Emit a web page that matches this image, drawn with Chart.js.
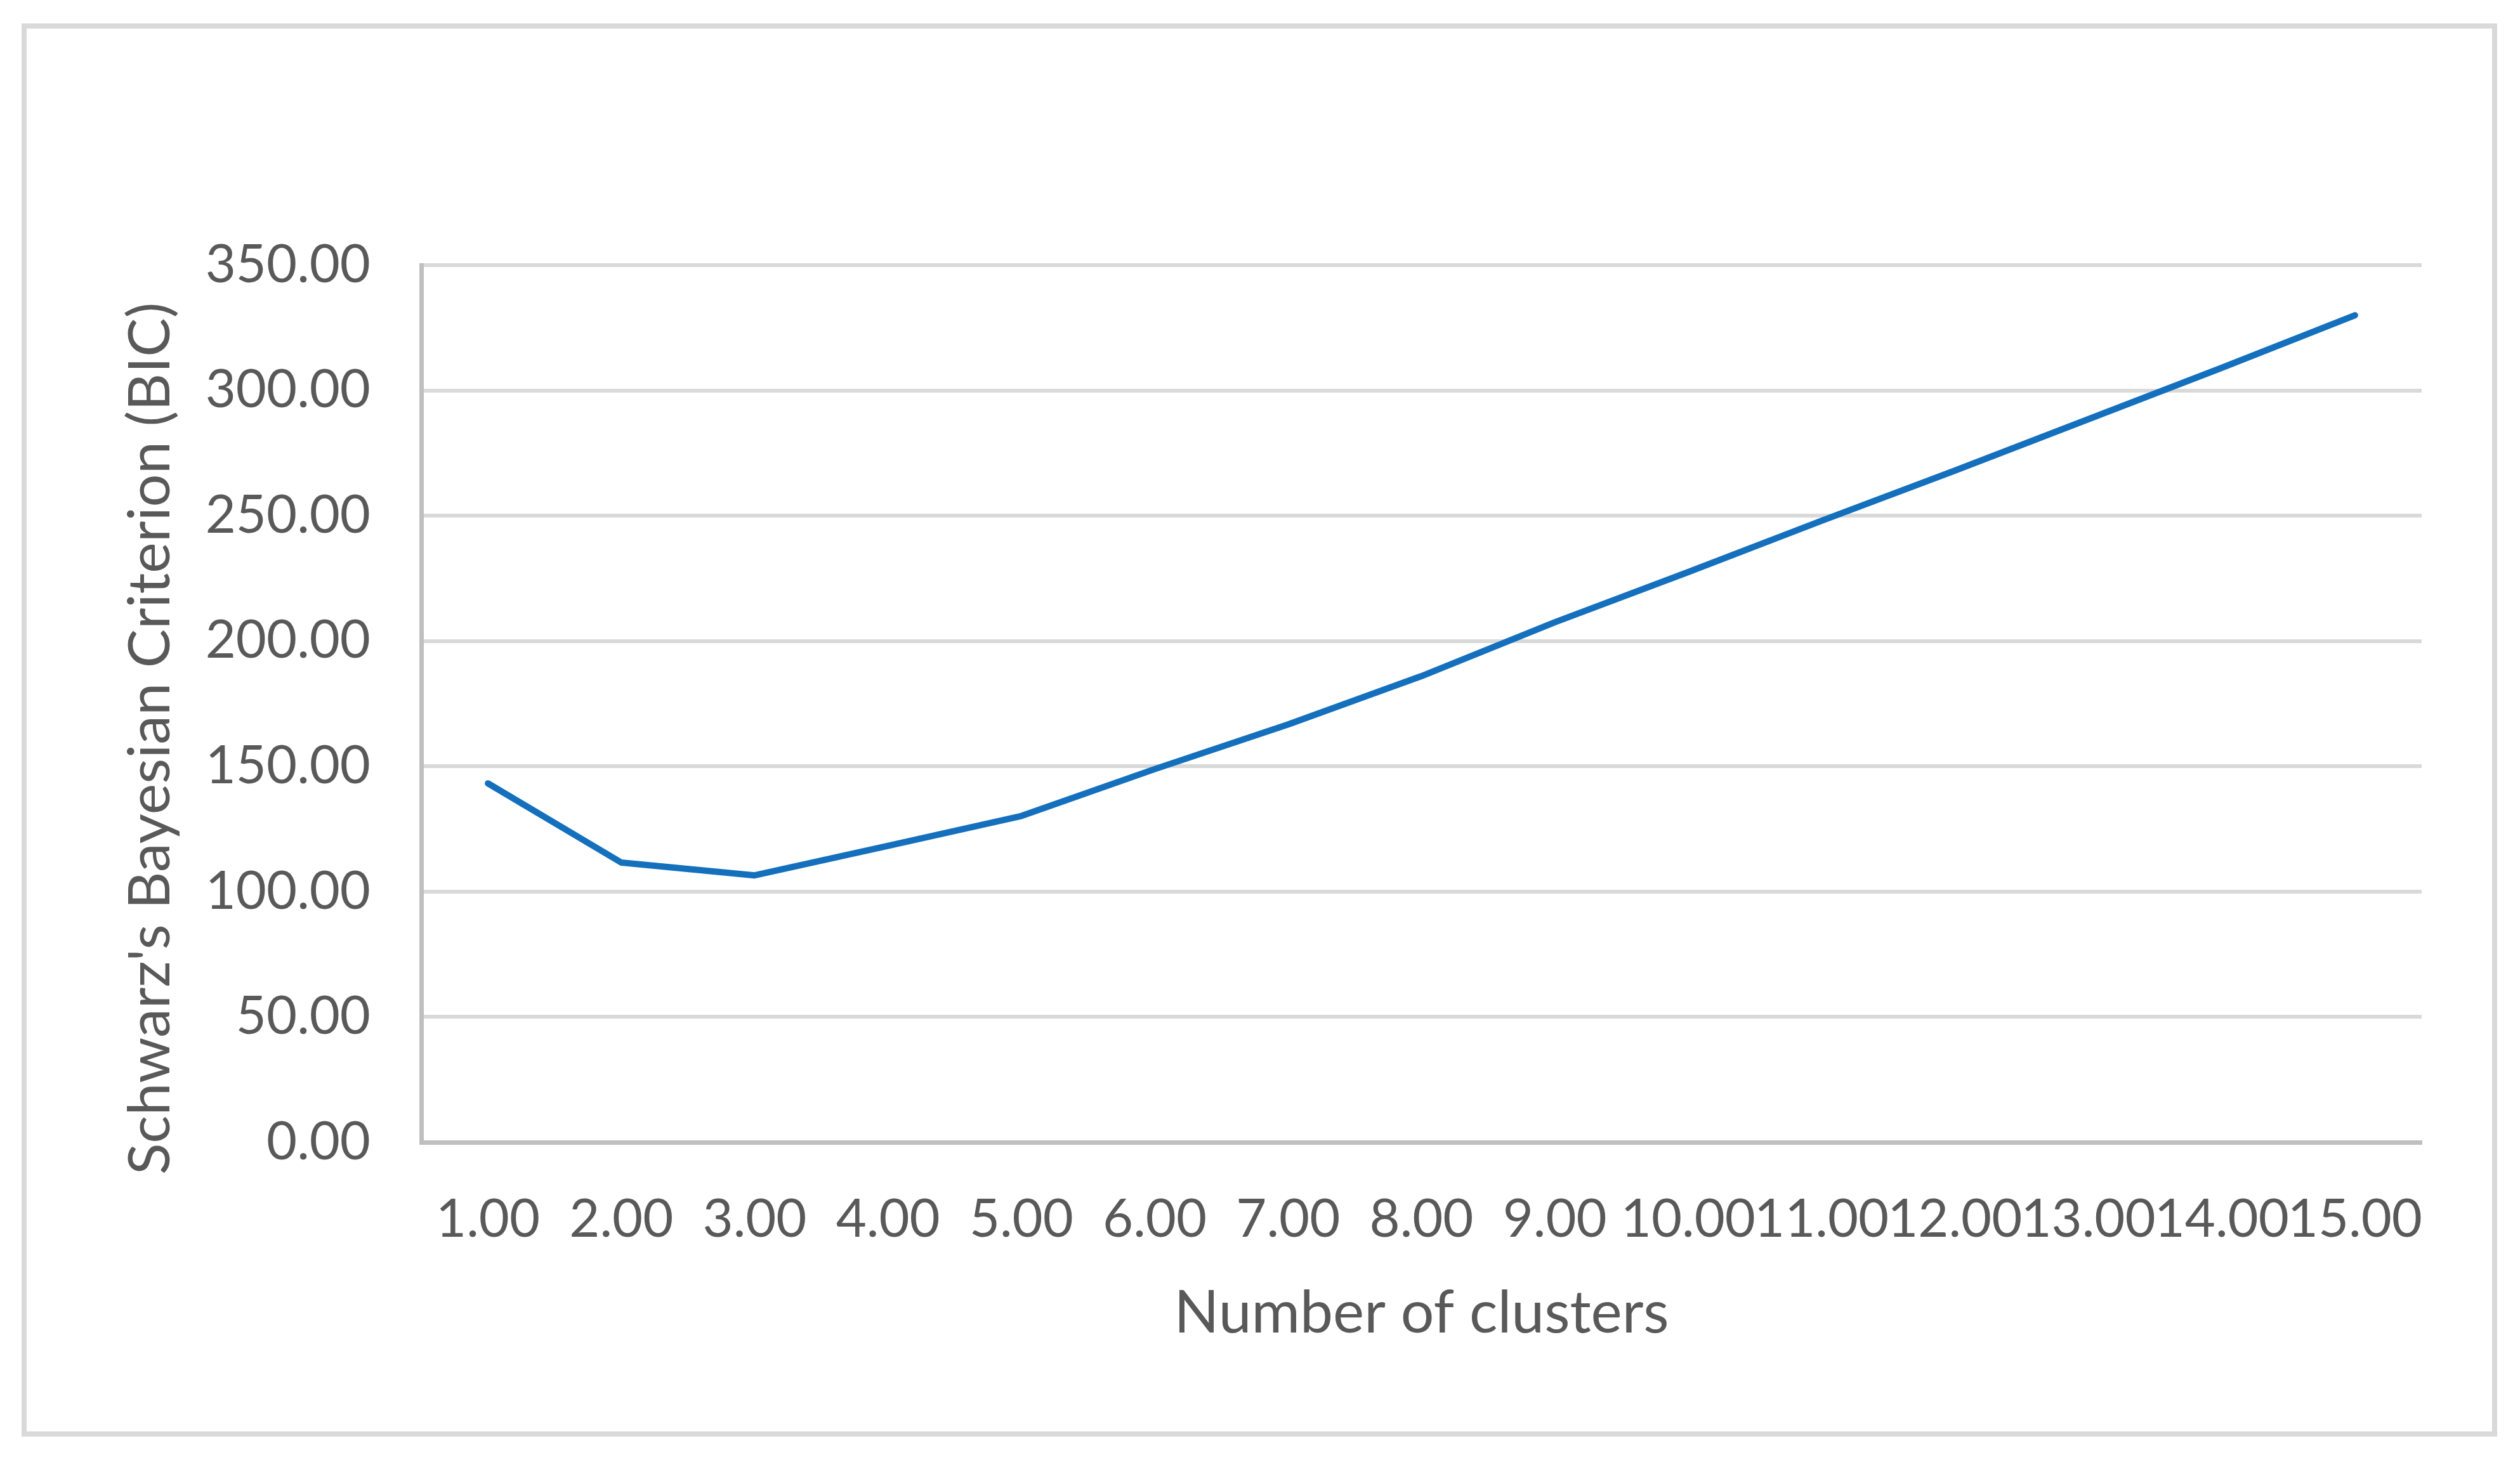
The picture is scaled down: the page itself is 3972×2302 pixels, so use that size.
<!DOCTYPE html>
<html>
<head>
<meta charset="utf-8">
<script src="https://cdn.jsdelivr.net/npm/chart.js@4.4.1/dist/chart.umd.min.js"></script>
<style>
  html, body { margin: 0; padding: 0; background: #ffffff; }
  canvas { display: block; }
</style>
</head>
<body>
<canvas id="c" width="3972" height="2302"></canvas>
<script>
// ---- data ----
const clusterLabels = ["1.00","2.00","3.00","4.00","5.00","6.00","7.00","8.00","9.00","10.00","11.00","12.00","13.00","14.00","15.00"];
const bicValues = [143.2, 111.6, 106.5, 118.3, 130.2, 148.9, 166.7, 186.0, 207.5, 227.5, 248.0, 268.0, 288.5, 309.0, 330.0];
const yTickStep = 50;
const yMin = 0;
const yMax = 350;
const xTitle = "Number of clusters";
const yTitle = "Schwarz's Bayesian Criterion (BIC)";

const textColor = '#595959';
const fontFamily = 'Lato, "Open Sans", sans-serif';

const frame = {
  id: 'frame',
  beforeDraw(chart) {
    const ctx = chart.ctx;
    ctx.save();
    ctx.fillStyle = '#ffffff';
    ctx.fillRect(0, 0, chart.width, chart.height);
    ctx.strokeStyle = '#d9d9d9';
    ctx.lineWidth = 8;
    ctx.strokeRect(38, 41, 3894, 2220);
    ctx.restore();
  },
  afterLayout(chart) {
    const s = chart.scales.y;
    if (!s || s._titleShifted) return;
    const orig = s.drawTitle;
    s.drawTitle = function () {
      const ctx = this.ctx;
      ctx.save();
      ctx.translate(0, 55);
      orig.apply(this, arguments);
      ctx.restore();
    };
    s._titleShifted = true;
  }
};

new Chart(document.getElementById('c'), {
  type: 'line',
  data: {
    labels: clusterLabels,
    datasets: [{
      data: bicValues,
      borderColor: '#1470bd',
      borderWidth: 10,
      borderCapStyle: 'round',
      borderJoinStyle: 'round',
      pointRadius: 0,
      pointHoverRadius: 0,
      tension: 0,
      fill: false
    }]
  },
  options: {
    responsive: false,
    devicePixelRatio: 1,
    animation: false,
    events: [],
    layout: { padding: { left: 0, top: 418, right: 155, bottom: 0 } },
    plugins: { legend: { display: false }, tooltip: { enabled: false } },
    scales: {
      x: {
        type: 'category',
        offset: true,
        grid: { display: false, drawTicks: false },
        border: { display: true, color: '#bfbfbf', width: 7 },
        ticks: {
          autoSkip: false, maxRotation: 0, minRotation: 0,
          color: textColor, padding: 72,
          font: { family: fontFamily, size: 83 }
        },
        title: {
          display: true, text: xTitle, color: textColor,
          font: { family: fontFamily, size: 93 },
          padding: { top: 0, bottom: 175 }
        },
        afterFit(scale) { scale.height = 2302 - 1801; }
      },
      y: {
        min: yMin, max: yMax,
        grid: { color: '#d9d9d9', lineWidth: 6, drawTicks: false },
        border: { display: true, color: '#bfbfbf', width: 7 },
        ticks: {
          stepSize: yTickStep,
          color: textColor, padding: 80,
          font: { family: fontFamily, size: 83 },
          callback: (v) => Number(v).toFixed(2)
        },
        title: {
          display: true, text: yTitle, color: textColor,
          font: { family: fontFamily, size: 92 },
          padding: { top: 182, bottom: 0 }
        },
        afterFit(scale) { scale.width = 664; }
      }
    }
  },
  plugins: [frame]
});
</script>
</body>
</html>
